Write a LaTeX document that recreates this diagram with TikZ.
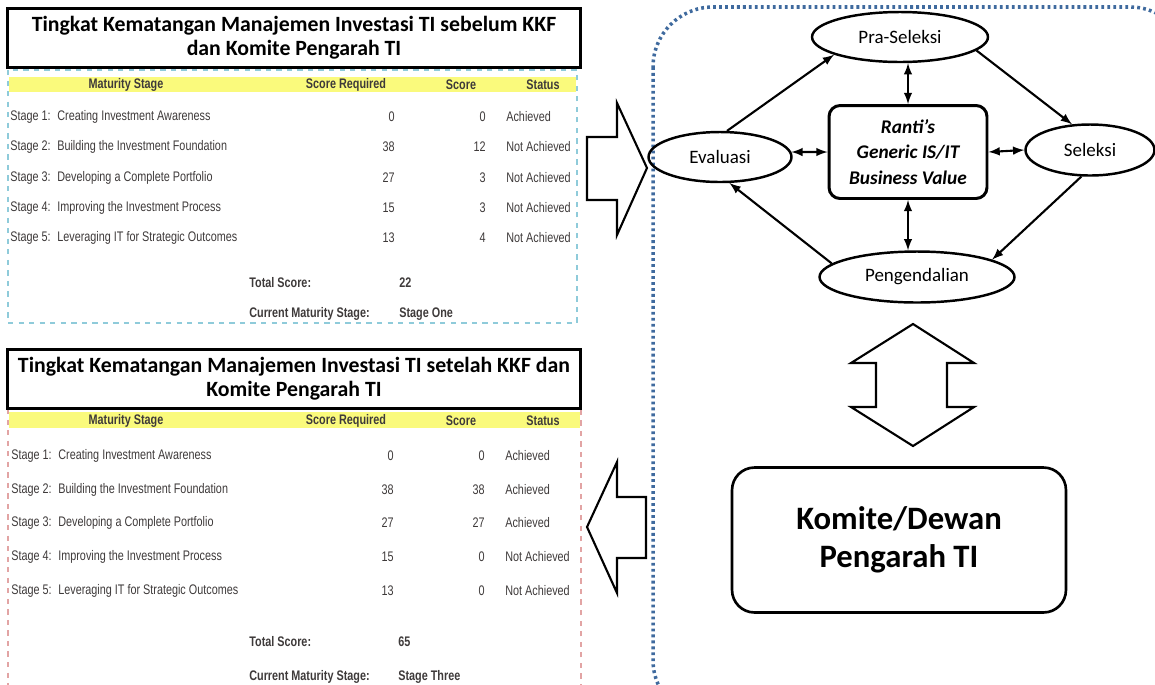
\documentclass[tikz,border=0pt]{standalone}
\usepackage{fontspec}
\setmainfont{Carlito}
\newfontfamily\tabfont[FakeStretch=0.78]{Liberation Sans}
\usetikzlibrary{shapes.geometric}

\definecolor{headyellow}{HTML}{FAFA7C}
\definecolor{dotblue}{HTML}{3F6A9E}
\definecolor{tabblue}{HTML}{8FCBDA}
\definecolor{tabred}{HTML}{E2A4A4}
\definecolor{tabgray}{HTML}{3E3A3A}

\begin{document}
\begin{tikzpicture}[x=0.02cm, y=-0.02cm, >=latex,
    phase/.style ={ellipse, draw, line width=1.4pt, inner sep=0pt, font=\fontsize{10.8}{12}\selectfont},
    titlebox/.style ={draw, line width=1.7pt, minimum width=11.46cm, minimum height=1.18cm, align=center,
                      font=\bfseries\fontsize{12.4}{13.6}\selectfont},
    head/.style ={inner sep=0pt, font=\tabfont\bfseries\fontsize{7.9}{9}\selectfont, text=tabgray},
    cell/.style ={inner sep=0pt, font=\tabfont\fontsize{7.9}{9}\selectfont, text=tabgray},
    flow/.style ={line width=1.2pt},
    blockarrow/.style ={draw, fill=white, line width=1.2pt, line join=miter}]
   \useasboundingbox (0,0) rectangle (1155,684);

   % dotted frame round the cycle
   \draw[dotblue, line width=2pt, dash pattern=on 1.6pt off 1.8pt, rounded corners=1.2cm]
        (653,7) rectangle (1190,720);

   % table before
   \fill[headyellow] (9,77) rectangle (576,92);
   \draw[tabblue, dashed, line width=0.8pt] (8,70) rectangle (577,323);
   \node[titlebox, fill=white] (title1) at (294,38)
        {Tingkat Kematangan Manajemen Investasi TI sebelum KKF\\dan Komite Pengarah TI};
   \node[head] (h1a) at (126,85) {Maturity Stage};
   \node[head] (h1b) at (346,85) {Score Required};
   \node[head] (h1c) at (461,85) {Score};
   \node[head] (h1d) at (543,85) {Status};

   \node[cell, anchor=west] (s11) at (10,117) {\makebox[0.94cm][l]{Stage 1:}Creating Investment Awareness};
   \node[cell, anchor=west] (s12) at (10,147) {\makebox[0.94cm][l]{Stage 2:}Building the Investment Foundation};
   \node[cell, anchor=west] (s13) at (10,178) {\makebox[0.94cm][l]{Stage 3:}Developing a Complete Portfolio};
   \node[cell, anchor=west] (s14) at (10,208) {\makebox[0.94cm][l]{Stage 4:}Improving the Investment Process};
   \node[cell, anchor=west] (s15) at (10,238) {\makebox[0.94cm][l]{Stage 5:}Leveraging IT for Strategic Outcomes};
   \node[cell, anchor=east] (r11) at (395,117) {0};
   \node[cell, anchor=east] (r12) at (395,147) {38};
   \node[cell, anchor=east] (r13) at (395,178) {27};
   \node[cell, anchor=east] (r14) at (395,208) {15};
   \node[cell, anchor=east] (r15) at (395,238) {13};
   \node[cell, anchor=east] (c11) at (486,117) {0};
   \node[cell, anchor=east] (c12) at (486,147) {12};
   \node[cell, anchor=east] (c13) at (486,178) {3};
   \node[cell, anchor=east] (c14) at (486,208) {3};
   \node[cell, anchor=east] (c15) at (486,238) {4};
   \node[cell, anchor=west] (t11) at (506,117) {Achieved};
   \node[cell, anchor=west] (t12) at (506,147) {Not Achieved};
   \node[cell, anchor=west] (t13) at (506,178) {Not Achieved};
   \node[cell, anchor=west] (t14) at (506,208) {Not Achieved};
   \node[cell, anchor=west] (t15) at (506,238) {Not Achieved};
   \node[head, anchor=west] (tot1) at (249,283) {Total Score:};
   \node[head, anchor=west] (totv1) at (399,283) {22};
   \node[head, anchor=west] (cur1) at (249,314) {Current Maturity Stage:};
   \node[head, anchor=west] (curv1) at (399,314) {Stage One};

   % table after
   \fill[headyellow] (9,412) rectangle (580,428);
   \draw[tabred, dashed, line width=0.8pt] (8,409) rectangle (581,700);
   \node[titlebox, fill=white] (title2) at (294,379)
        {Tingkat Kematangan Manajemen Investasi TI setelah KKF dan\\Komite Pengarah TI};
   \node[head] (h2a) at (126,421) {Maturity Stage};
   \node[head] (h2b) at (346,421) {Score Required};
   \node[head] (h2c) at (461,421) {Score};
   \node[head] (h2d) at (543,421) {Status};

   \node[cell, anchor=west] (s21) at (11,456) {\makebox[0.94cm][l]{Stage 1:}Creating Investment Awareness};
   \node[cell, anchor=west] (s22) at (11,490) {\makebox[0.94cm][l]{Stage 2:}Building the Investment Foundation};
   \node[cell, anchor=west] (s23) at (11,523) {\makebox[0.94cm][l]{Stage 3:}Developing a Complete Portfolio};
   \node[cell, anchor=west] (s24) at (11,557) {\makebox[0.94cm][l]{Stage 4:}Improving the Investment Process};
   \node[cell, anchor=west] (s25) at (11,591) {\makebox[0.94cm][l]{Stage 5:}Leveraging IT for Strategic Outcomes};
   \node[cell, anchor=east] (r21) at (394,456) {0};
   \node[cell, anchor=east] (r22) at (394,490) {38};
   \node[cell, anchor=east] (r23) at (394,523) {27};
   \node[cell, anchor=east] (r24) at (394,557) {15};
   \node[cell, anchor=east] (r25) at (394,591) {13};
   \node[cell, anchor=east] (c21) at (485,456) {0};
   \node[cell, anchor=east] (c22) at (485,490) {38};
   \node[cell, anchor=east] (c23) at (485,523) {27};
   \node[cell, anchor=east] (c24) at (485,557) {0};
   \node[cell, anchor=east] (c25) at (485,591) {0};
   \node[cell, anchor=west] (t21) at (505,456) {Achieved};
   \node[cell, anchor=west] (t22) at (505,490) {Achieved};
   \node[cell, anchor=west] (t23) at (505,523) {Achieved};
   \node[cell, anchor=west] (t24) at (505,557) {Not Achieved};
   \node[cell, anchor=west] (t25) at (505,591) {Not Achieved};
   \node[head, anchor=west] (tot2) at (249,642) {Total Score:};
   \node[head, anchor=west] (totv2) at (398,642) {65};
   \node[head, anchor=west] (cur2) at (249,677) {Current Maturity Stage:};
   \node[head, anchor=west] (curv2) at (398,677) {Stage Three};

   % block arrows
   \draw[blockarrow] (587,137) -- (617,137) -- (617,103) -- (647,168) -- (617,235) -- (617,200) -- (587,200) -- cycle;
   \draw[blockarrow] (646,497) -- (617,497) -- (617,462) -- (587,527) -- (617,593) -- (617,558) -- (646,558) -- cycle;
   \draw[blockarrow] (913,324) -- (974,363) -- (947,363) -- (947,407) -- (974,407) -- (913,446)
        -- (851,407) -- (876,407) -- (876,363) -- (851,363) -- cycle;

   % cycle
   \node[phase, minimum width=3.52cm, minimum height=1.0cm] (pra) at (900,37) {Pra-Seleksi};
   \node[phase, minimum width=2.86cm, minimum height=1.0cm] (evaluasi) at (720,157) {Evaluasi};
   \node[phase, minimum width=2.58cm, minimum height=1.02cm] (seleksi) at (1090,150) {Seleksi};
   \node[phase, minimum width=3.9cm, minimum height=1.02cm] (pengendalian) at (917,277) {Pengendalian};
   \node[draw, line width=1.7pt, rounded corners=0.22cm, minimum width=3.16cm, minimum height=1.86cm,
         align=center, font=\bfseries\itshape\fontsize{11}{14.5}\selectfont] (ranti) at (908,152)
        {Ranti’s\\Generic IS/IT\\Business Value};
   \node[draw, line width=1.5pt, rounded corners=0.45cm, minimum width=6.68cm, minimum height=2.9cm,
         align=center, font=\bfseries\fontsize{18.6}{21.5}\selectfont] (komite) at (899,540)
        {Komite/Dewan\\Pengarah TI};

   \draw[flow,->] (evaluasi.75) to (pra.195);
   \draw[flow,->] (pra.350) to (seleksi.125);
   \draw[flow,->] (seleksi.252) to (pengendalian.13);
   \draw[flow,->] (pengendalian.171) to (evaluasi.290);
   \draw[flow,<->] (ranti.north) to (ranti.north |- pra.south);
   \draw[flow,<->] (ranti.south) to (ranti.south |- pengendalian.north);
   \draw[flow,<->] (evaluasi.4) to (ranti.west);
   \draw[flow,<->] (ranti.east) to (seleksi.west);
 \end{tikzpicture}
\end{document}
